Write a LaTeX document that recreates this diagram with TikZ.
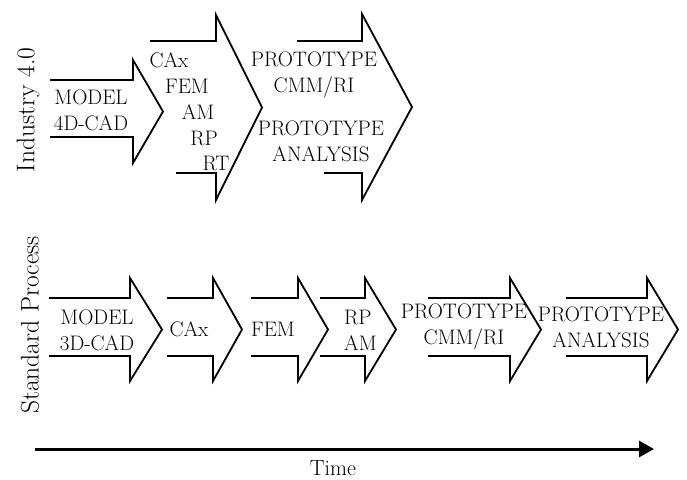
\documentclass[tikz,border=0pt]{standalone}
\usepackage{fontspec}
\usepackage{tikz}
\usetikzlibrary{arrows.meta}

\tikzset{
  flowarrow/.style={line width=1.8pt, line join=miter},
  steptext/.style={font=\fontsize{21}{26}\selectfont, inner sep=0pt, align=center},
  sidetext/.style={font=\fontsize{25.5}{30}\selectfont, inner sep=0pt, rotate=90},
}

\begin{document}
\begin{tikzpicture}[x=1pt, y=-1pt]
    \useasboundingbox (0,0) rectangle (687,479);
    % Industry 4.0 row: left top, left bottom, shaft end, tip, shaft top/bottom, head top/bottom
    \foreach \lt/\lb/\r/\t/\st/\sb/\ht/\hb in {50/50/133/163/80/137/60/163,
                                                150/176/216/262/41/173/15/200,
                                                297/324/362/412/41/173/14/200} {
      \draw[flowarrow] (\lt,\st) -- (\r,\st) -- (\r,\ht) -- (\t,{(\ht+\hb)/2})
        -- (\r,\hb) -- (\r,\sb) -- (\lb,\sb);
    }
    % Standard process row
    \foreach \l/\r/\t in {49/130/162, 167/213/242, 251/298/328,
                          320/365/396, 428/510/541, 566/647/678} {
      \draw[flowarrow] (\l,298) -- (\r,298) -- (\r,278) -- (\t,329.5)
        -- (\r,381) -- (\r,356) -- (\l,356);
    }
    % Row labels
    \node[sidetext] (industry) at (28,110) {Industry 4.0};
    \node[sidetext] (standard) at (30,325) {Standard Process};
    % Industry 4.0 texts
    \node[steptext] (model4d) at (91,110) {MODEL\\4D-CAD};
    \node[steptext] (icax) at (169,60) {CAx};
    \node[steptext] (ifem) at (187,86) {FEM};
    \node[steptext] (iam) at (198,112) {AM};
    \node[steptext] (irp) at (204,138) {RP};
    \node[steptext] (irt) at (216,163) {RT};
    \node[steptext] (iproto) at (314,75) {PROTOTYPE\\CMM/RI};
    \node[steptext] (ianalysis) at (321,141) {PROTOTYPE\\ANALYSIS};
    % Standard process texts
    \node[steptext] (model3d) at (97,330) {MODEL\\3D-CAD};
    \node[steptext] (scax) at (189,329) {CAx};
    \node[steptext] (sfem) at (273,329) {FEM};
    \node[steptext, anchor=west, align=left] (srpam) at (344,330) {RP\\AM};
    \node[steptext] (sproto) at (464,327) {PROTOTYPE\\CMM/RI};
    \node[steptext] (sanalysis) at (601,327) {PROTOTYPE\\ANALYSIS};
    % Time axis
    \coordinate (tstart) at (35,449);
    \coordinate (tend) at (654,449);
    \draw[line width=3pt, -{Triangle[length=15pt, width=16pt]}] (tstart) -- (tend);
    \node[inner sep=0pt, anchor=base, font=\fontsize{22}{26}\selectfont] (time) at (333,475) {Time};
\end{tikzpicture}
\end{document}
